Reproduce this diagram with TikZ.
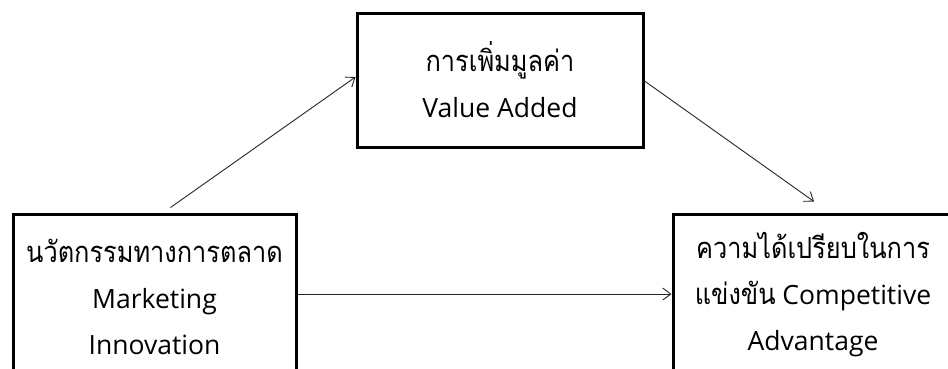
\documentclass[tikz,border=0pt]{standalone}
\usepackage{fontspec}
\usetikzlibrary{arrows.meta,calc}
\setmainfont{Open Sans}
\newfontfamily\thaitext[Script=Thai,Scale=1.1,FakeStretch=0.87]{Loma}
\tikzset{
  framebox/.style={draw=black, line width=3pt, rectangle, inner sep=0pt,
    align=center, font=\fontsize{26.5}{46}\selectfont},
  link/.style={draw=black!85, line width=0.9pt,
    -{Straight Barb[length=8pt,width=12pt,line width=0.9pt]}}
}
\begin{document}
\begin{tikzpicture}[x=1pt,y=-1pt]
  \useasboundingbox (0,0) rectangle (948,368);
  \fill[white] (0,0) rectangle (948,368);
  % the three factors
  \node[framebox, minimum width=286pt, minimum height=134pt] (va) at (500,80)
    {{\thaitext การเพิ่มมูลค่า}\\Value Added};
  \node[framebox, minimum width=283pt, minimum height=166pt] (mi) at (154.5,297)
    {{\thaitext นวัตกรรมทางการตลาด}\\Marketing\\Innovation};
  \node[framebox, minimum width=280pt, minimum height=162pt] (ca) at (813,295)
    {{\thaitext ความได้เปรียบในการ}\\{\thaitext แข่งขัน} Competitive\\Advantage};
  % arrow end points just off the box edges
  \coordinate (miTop) at ($(mi.north west)+(159,-5)$);
  \coordinate (vaIn) at ($(va.west)+(0,-3)$);
  \coordinate (vaOut) at ($(va.east)+(0,1)$);
  \coordinate (caTop) at ($(ca.north)+(1,-11)$);
  \coordinate (miOut) at ($(mi.east)+(0,-3)$);
  \coordinate (caIn) at ($(ca.west)+(0,-1)$);
  % relations
  \draw[link] (miTop) -- (vaIn);
  \draw[link] (vaOut) -- (caTop);
  \draw[link] (miOut) -- (caIn);
\end{tikzpicture}
\end{document}
